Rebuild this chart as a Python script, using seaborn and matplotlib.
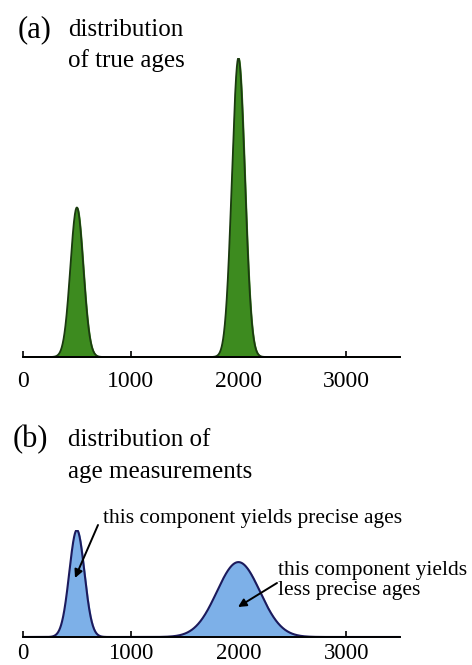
import numpy as np
import matplotlib
matplotlib.use("Agg")
import matplotlib.pyplot as plt
import seaborn as sns
import pandas as pd

# ---- data ----
true_means = [500, 2000]
true_sigmas = [60, 60]
true_weights = [1, 2]
meas_means = [500, 2000]
meas_sigmas = [70, 200]
meas_weights = [1, 2]
tick_values = [0, 1000, 2000, 3000]
tick_labels = ["0", "1000", "2000", "3000"]
x_max = 3500

sns.set_theme(style="white")
plt.rcParams['font.family'] = ['Liberation Serif', 'DejaVu Serif']
plt.rcParams['text.color'] = 'black'
plt.rcParams['xtick.color'] = 'black'
plt.rcParams['xtick.labelcolor'] = 'black'

W, H = 472, 665
fig = plt.figure(figsize=(W / 100, H / 100), dpi=100)

def fx(px):
    return px / W

def fy(py):
    return 1 - py / H

x = np.linspace(0, x_max, 2000)

def mixture(means, sigmas, weights):
    y = np.zeros_like(x)
    for m, s, w in zip(means, sigmas, weights):
        y += w * np.exp(-0.5 * ((x - m) / s) ** 2) / (s * np.sqrt(2 * np.pi))
    return y

left_px, right_px = 23, 400

def make_axes(base_py, top_py):
    ax = fig.add_axes([fx(left_px), fy(base_py), fx(right_px) - fx(left_px),
                       (base_py - top_py) / H])
    return ax

def style_axes(ax, ymax, pad, fs):
    ax.set_xlim(0, x_max)
    ax.set_ylim(0, ymax)
    for s in ["top", "right", "left"]:
        ax.spines[s].set_visible(False)
    ax.spines["bottom"].set_color("black")
    ax.spines["bottom"].set_linewidth(1.4)
    ax.set_yticks([])
    ax.set_xticks(tick_values)
    ax.set_xticklabels(tick_labels, fontsize=fs, color="black")
    ax.tick_params(axis="x", direction="in", length=4, width=1.2, color="black",
                   pad=pad, bottom=True)
    ax.set_xlabel("")
    ax.set_ylabel("")
    ax.patch.set_alpha(0)

# panel (a)
ya = mixture(true_means, true_sigmas, true_weights)
dfa = pd.DataFrame({"x": x, "y": ya})
ax1 = make_axes(357, 58)
ax1.fill_between(dfa["x"], 0, dfa["y"], color="#3d8b1f", zorder=1)
sns.lineplot(data=dfa, x="x", y="y", ax=ax1, color="#1b3a10", linewidth=1.3, zorder=2)
style_axes(ax1, ya.max(), 10, 17)

# panel (b)
yb = mixture(meas_means, meas_sigmas, meas_weights)
dfb = pd.DataFrame({"x": x, "y": yb})
ax2 = make_axes(637, 530)
ax2.fill_between(dfb["x"], 0, dfb["y"], color="#7db0e8", zorder=1)
sns.lineplot(data=dfb, x="x", y="y", ax=ax2, color="#1c1a5c", linewidth=1.5, zorder=2)
style_axes(ax2, yb.max(), 4, 16.5)

# titles
fig.text(fx(18), fy(30), "(a)", fontsize=22, va="center", ha="left")
fig.text(fx(68), fy(30), "distribution", fontsize=18, va="center", ha="left")
fig.text(fx(68), fy(61), "of true ages", fontsize=18, va="center", ha="left")
fig.text(fx(13), fy(440), "(b)", fontsize=22, va="center", ha="left")
fig.text(fx(68), fy(440), "distribution of", fontsize=18, va="center", ha="left")
fig.text(fx(68), fy(472), "age measurements", fontsize=18, va="center", ha="left")

# annotations
fig.text(fx(103), fy(518), "this component yields precise ages", fontsize=15.5,
         va="center", ha="left")
fig.text(fx(278), fy(570), "this component yields", fontsize=15.5, va="center", ha="left")
fig.text(fx(278), fy(590), "less precise ages", fontsize=15.5, va="center", ha="left")

arrowprops = dict(arrowstyle="-|>", color="black", lw=1.4, mutation_scale=12,
                  shrinkA=0, shrinkB=0)
fig.add_artist(matplotlib.patches.FancyArrowPatch(
    (fx(98), fy(525)), (fx(75), fy(578)), transform=fig.transFigure, **arrowprops))
fig.add_artist(matplotlib.patches.FancyArrowPatch(
    (fx(277), fy(583)), (fx(238), fy(607)), transform=fig.transFigure, **arrowprops))

fig.savefig("out.png", dpi=100)
